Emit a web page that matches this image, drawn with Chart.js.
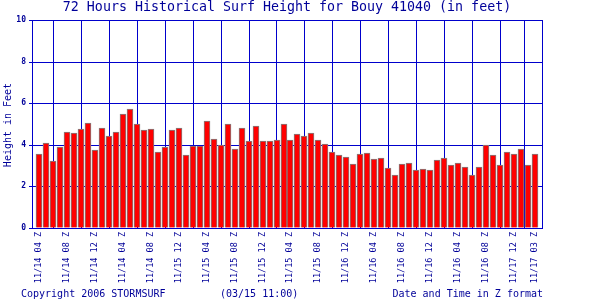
<!DOCTYPE html>
<html><head><meta charset="utf-8">
<script src="https://cdn.jsdelivr.net/npm/chart.js@4"></script>
<style>html,body{margin:0;padding:0;background:#fff}#wrap{width:600px;height:300px;position:relative}</style>
</head><body><div id="wrap"><canvas id="c" width="600" height="300"></canvas></div>
<script>
const categories = [
 '11/14 04 Z','11/14 05 Z','11/14 06 Z','11/14 07 Z','11/14 08 Z','11/14 09 Z','11/14 10 Z','11/14 11 Z',
 '11/14 12 Z','11/14 01 Z','11/14 02 Z','11/14 03 Z','11/14 04 Z','11/14 05 Z','11/14 06 Z','11/14 07 Z',
 '11/14 08 Z','11/14 09 Z','11/14 10 Z','11/14 11 Z',
 '11/15 12 Z','11/15 01 Z','11/15 02 Z','11/15 03 Z','11/15 04 Z','11/15 05 Z','11/15 06 Z','11/15 07 Z',
 '11/15 08 Z','11/15 09 Z','11/15 10 Z','11/15 11 Z','11/15 12 Z','11/15 01 Z','11/15 02 Z','11/15 03 Z',
 '11/15 04 Z','11/15 05 Z','11/15 06 Z','11/15 07 Z','11/15 08 Z','11/15 09 Z','11/15 10 Z','11/15 11 Z',
 '11/16 12 Z','11/16 01 Z','11/16 02 Z','11/16 03 Z','11/16 04 Z','11/16 05 Z','11/16 06 Z','11/16 07 Z',
 '11/16 08 Z','11/16 09 Z','11/16 10 Z','11/16 11 Z','11/16 12 Z','11/16 01 Z','11/16 02 Z','11/16 03 Z',
 '11/16 04 Z','11/16 05 Z','11/16 06 Z','11/16 07 Z','11/16 08 Z','11/16 09 Z','11/16 10 Z','11/16 11 Z',
 '11/17 12 Z','11/17 01 Z','11/17 02 Z','11/17 03 Z'
];
const surfHeight = [
 3.57,4.10,3.24,3.91,4.63,4.58,4.77,5.06,3.76,4.82,4.44,4.63,5.49,5.73,5.01,4.73,
 4.77,3.67,3.91,4.73,4.82,3.52,3.96,3.96,5.16,4.29,4.00,5.01,3.81,4.82,4.20,4.92,
 4.20,4.20,4.25,5.01,4.25,4.54,4.44,4.58,4.25,4.05,3.67,3.52,3.43,3.09,3.57,3.62,
 3.33,3.38,2.90,2.56,3.09,3.14,2.80,2.85,2.80,3.28,3.38,3.04,3.14,2.95,2.56,2.95,
 4.00,3.52,3.04,3.67,3.57,3.81,3.04,3.57
];
const yTicks = [0, 2, 4, 6, 8, 10];
const titleText = '72 Hours Historical Surf Height for Bouy 41040 (in feet)';
const yTitleText = 'Height in Feet';
const copyrightText = 'Copyright 2006 STORMSURF';
const stampText = '(03/15 11:00)';
const xTitleText = 'Date and Time in Z format';

const GRID = '#0000cc';
const TEXT = '#000099';
const FONT = '"DejaVu Sans Mono", "Liberation Mono", monospace';

function isLabeled(i) { return i % 4 === 0 || i === categories.length - 1; }
const labeledIndices = categories.map((_, i) => i).filter(isLabeled);
const points = surfHeight.map((v, i) => ({ x: i, y: v }));

const decor = {
  id: 'decor',
  beforeDraw(chart) {
    const c = chart.ctx;
    c.save(); c.fillStyle = '#fff'; c.fillRect(0, 0, chart.width, chart.height); c.restore();
  },
  afterDraw(chart) {
    const c = chart.ctx, a = chart.chartArea;
    c.save();
    c.strokeStyle = GRID; c.lineWidth = 1;
    c.strokeRect(Math.round(a.left) + 0.5, Math.round(a.top) + 0.5, Math.round(a.right - a.left), Math.round(a.bottom - a.top));
    c.fillStyle = TEXT;
    c.textBaseline = 'middle';
    c.font = '13.3px ' + FONT;
    c.textAlign = 'center';
    c.fillText(titleText, (a.left + a.right) / 2, 8);
    c.font = '10px ' + FONT;
    c.textAlign = 'left';
    c.fillText(copyrightText, 21, 294);
    c.fillText(stampText, 220, 294);
    c.textAlign = 'right';
    c.fillText(xTitleText, 543, 294);
    c.save();
    c.translate(8, 125); c.rotate(-Math.PI / 2);
    c.textAlign = 'center';
    c.fillText(yTitleText, 0, 0);
    c.restore();
    c.restore();
  }
};

new Chart(document.getElementById('c'), {
  type: 'bar',
  data: {
    datasets: [{
      data: points,
      backgroundColor: '#ff0000',
      borderColor: '#808080',
      borderWidth: 1,
      barPercentage: 1,
      categoryPercentage: 1
    }]
  },
  options: {
    responsive: false,
    animation: false,
    devicePixelRatio: 1,
    layout: { padding: { top: 20, right: 58, left: 0, bottom: 0 } },
    plugins: { legend: { display: false }, tooltip: { enabled: false }, title: { display: false } },
    scales: {
      x: {
        type: 'linear',
        min: -1, max: categories.length,
        offset: false,
        alignToPixels: true,
        afterFit(s) { s.height = 72; },
        afterBuildTicks(s) { s.ticks = labeledIndices.map(v => ({ value: v })); },
        grid: { drawTicks: false, color: GRID, lineWidth: 1 },
        border: { display: true, color: GRID },
        ticks: {
          autoSkip: false, minRotation: 90, maxRotation: 90, padding: 4,
          color: TEXT, font: { family: FONT, size: 8.5 },
          callback: (v) => categories[v] || ''
        }
      },
      y: {
        min: 0, max: 10,
        alignToPixels: true,
        afterFit(s) { s.width = 32; },
        afterBuildTicks(s) { s.ticks = yTicks.map(v => ({ value: v })); },
        grid: { color: GRID, drawTicks: true, tickLength: 3, lineWidth: 1 },
        border: { display: true, color: GRID },
        ticks: { padding: 3, color: TEXT, font: { family: FONT, size: 8, weight: 'bold' } }
      }
    }
  },
  plugins: [decor]
});
</script></body></html>
